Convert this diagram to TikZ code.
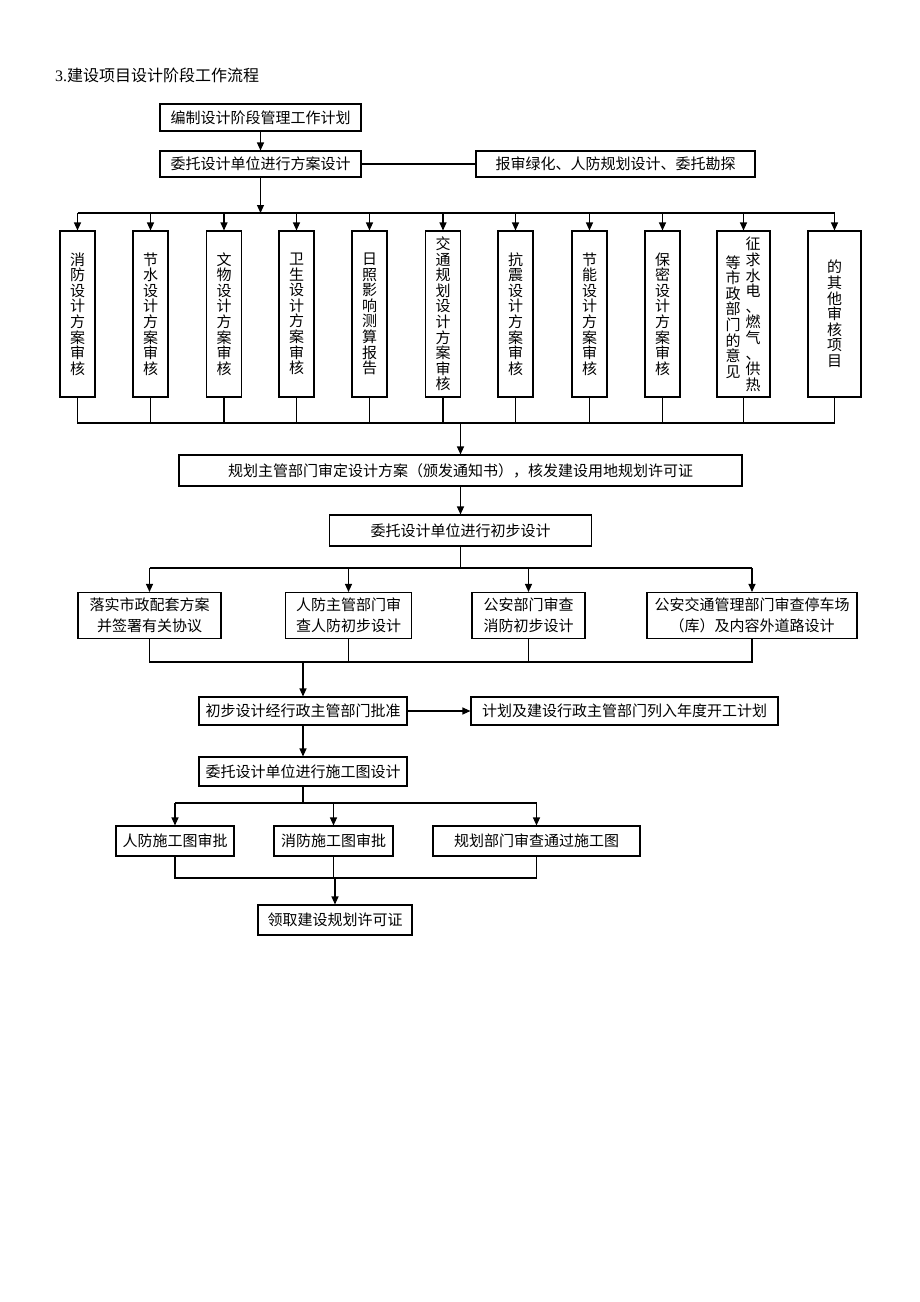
\documentclass[tikz,border=0pt]{standalone}
\usepackage{fontspec}
\setmainfont{Liberation Serif}
\newfontfamily\cjk{Noto Sans CJK SC}
\usetikzlibrary{arrows.meta}
\begin{document}
\begin{tikzpicture}[x=1pt,y=-1pt,
  box/.style={draw,line width=1.1pt,inner sep=0pt,align=center,font=\cjk\fontsize{15}{21}\selectfont},
  vbox/.style={draw,line width=1.1pt,inner sep=0pt,minimum height=166pt,minimum width=35pt,align=center,font=\cjk\fontsize{15}{15.6}\selectfont},
  vtxt/.style={inner sep=0pt,align=center,font=\cjk\fontsize{15}{15.6}\selectfont},
  conn/.style={line width=1.1pt},
  arr/.style={line width=1.1pt,-{Triangle[length=8pt,width=7pt]}}]
\useasboundingbox (0,0) rectangle (920,1302);
\fill[white] (0,0) rectangle (920,1302);

\node[anchor=west,inner sep=0pt,font=\fontsize{16}{16}\selectfont] (title) at (55,75) {3.{\cjk 建设项目设计阶段工作流程}};

\node[box,minimum width=201pt,minimum height=27pt] (b1) at (260.5,117.5) {编制设计阶段管理工作计划};
\node[box,minimum width=201pt,minimum height=26pt] (b2) at (260.5,164) {委托设计单位进行方案设计};
\node[box,minimum width=279pt,minimum height=26pt] (side) at (615.5,164) {报审绿化、人防规划设计、委托勘探};

\node[vbox] (v1) at (77.5,314) {消\\防\\设\\计\\方\\案\\审\\核};
\node[vbox] (v2) at (150.5,314) {节\\水\\设\\计\\方\\案\\审\\核};
\node[vbox] (v3) at (224,314) {文\\物\\设\\计\\方\\案\\审\\核};
\node[vbox] (v4) at (296.5,314) {卫\\生\\设\\计\\方\\案\\审\\核};
\node[vbox] (v5) at (369.5,314) {日\\照\\影\\响\\测\\算\\报\\告};
\node[vbox] (v6) at (443,314) {交\\通\\规\\划\\设\\计\\方\\案\\审\\核};
\node[vbox] (v7) at (515.5,314) {抗\\震\\设\\计\\方\\案\\审\\核};
\node[vbox] (v8) at (589.5,314) {节\\能\\设\\计\\方\\案\\审\\核};
\node[vbox] (v9) at (662.5,314) {保\\密\\设\\计\\方\\案\\审\\核};
\node[vbox,minimum width=53pt] (v10) at (743.5,314) {};
\node[vtxt] (v10a) at (753,314.5) {征\\求\\水\\电\\、\\燃\\气\\、\\供\\热};
\node[vtxt] (v10b) at (733,317) {等\\市\\政\\部\\门\\的\\意\\见};
\node[vbox,minimum width=53pt] (v11) at (834.5,314) {的\\其\\他\\审\\核\\项\\目};

\coordinate (t0) at (260.5,213);
\draw[arr] (b1) -- (b2);
\draw[conn] (b2) -- (side);
\draw[arr] (b2.south) -- (t0);
\draw[conn] (v1.north |- t0) -- (v11.north |- t0);
\foreach \i in {1,...,11} {\draw[arr] (v\i.north |- t0) -- (v\i.north);}

\coordinate (t1) at (460.5,423);
\draw[conn] (v1.south) -- (v1.south |- t1) -- (v11.south |- t1) -- (v11.south);
\foreach \i in {2,...,10} {\draw[conn] (v\i.south) -- (v\i.south |- t1);}

\node[box,minimum width=563pt,minimum height=31pt] (big) at (460.5,470.5) {规划主管部门审定设计方案（颁发通知书），核发建设用地规划许可证};
\draw[arr] (big.north |- t1) -- (big.north);

\node[box,minimum width=262pt,minimum height=31pt] (init) at (460.5,530.5) {委托设计单位进行初步设计};
\draw[arr] (big) -- (init);

\node[box,minimum width=143pt,minimum height=46pt] (ha) at (149.5,615.5) {落实市政配套方案\\并签署有关协议};
\node[box,minimum width=126pt,minimum height=46pt] (hb) at (348.5,615.5) {人防主管部门审\\查人防初步设计};
\node[box,minimum width=113pt,minimum height=46pt] (hc) at (528.5,615.5) {公安部门审查\\消防初步设计};
\node[box,minimum width=210pt,minimum height=46pt] (hd) at (752,615.5) {公安交通管理部门审查停车场\\（库）及内容外道路设计};

\coordinate (t2) at (460.5,568);
\draw[conn] (init.south) -- (t2);
\draw[conn] (ha.north |- t2) -- (hd.north |- t2);
\foreach \n in {ha,hb,hc,hd} {\draw[arr] (\n.north |- t2) -- (\n.north);}

\coordinate (t3) at (303,662);
\draw[conn] (ha.south) -- (ha.south |- t3) -- (hd.south |- t3) -- (hd.south);
\draw[conn] (hb.south) -- (hb.south |- t3);
\draw[conn] (hc.south) -- (hc.south |- t3);

\node[box,minimum width=208pt,minimum height=28pt] (approve) at (303,711) {初步设计经行政主管部门批准};
\node[box,minimum width=307pt,minimum height=28pt] (plan) at (624.5,711) {计划及建设行政主管部门列入年度开工计划};
\node[box,minimum width=208pt,minimum height=29pt] (con) at (303,771.5) {委托设计单位进行施工图设计};
\draw[arr] (t3) -- (approve.north);
\draw[arr] (approve) -- (plan);
\draw[arr] (approve) -- (con);

\node[box,minimum width=118pt,minimum height=30pt] (p1) at (175,841) {人防施工图审批};
\node[box,minimum width=119pt,minimum height=30pt] (p2) at (333.5,841) {消防施工图审批};
\node[box,minimum width=207pt,minimum height=30pt] (p3) at (536.5,841) {规划部门审查通过施工图};

\coordinate (t4) at (303,803);
\draw[conn] (con.south) -- (t4);
\draw[conn] (p1.north |- t4) -- (p3.north |- t4);
\foreach \n in {p1,p2,p3} {\draw[arr] (\n.north |- t4) -- (\n.north);}

\node[box,minimum width=154pt,minimum height=30pt] (final) at (335,920) {领取建设规划许可证};
\coordinate (t5) at (335,878);
\draw[conn] (p1.south) -- (p1.south |- t5) -- (p3.south |- t5) -- (p3.south);
\draw[conn] (p2.south) -- (p2.south |- t5);
\draw[arr] (t5) -- (final.north);
\end{tikzpicture}
\end{document}
